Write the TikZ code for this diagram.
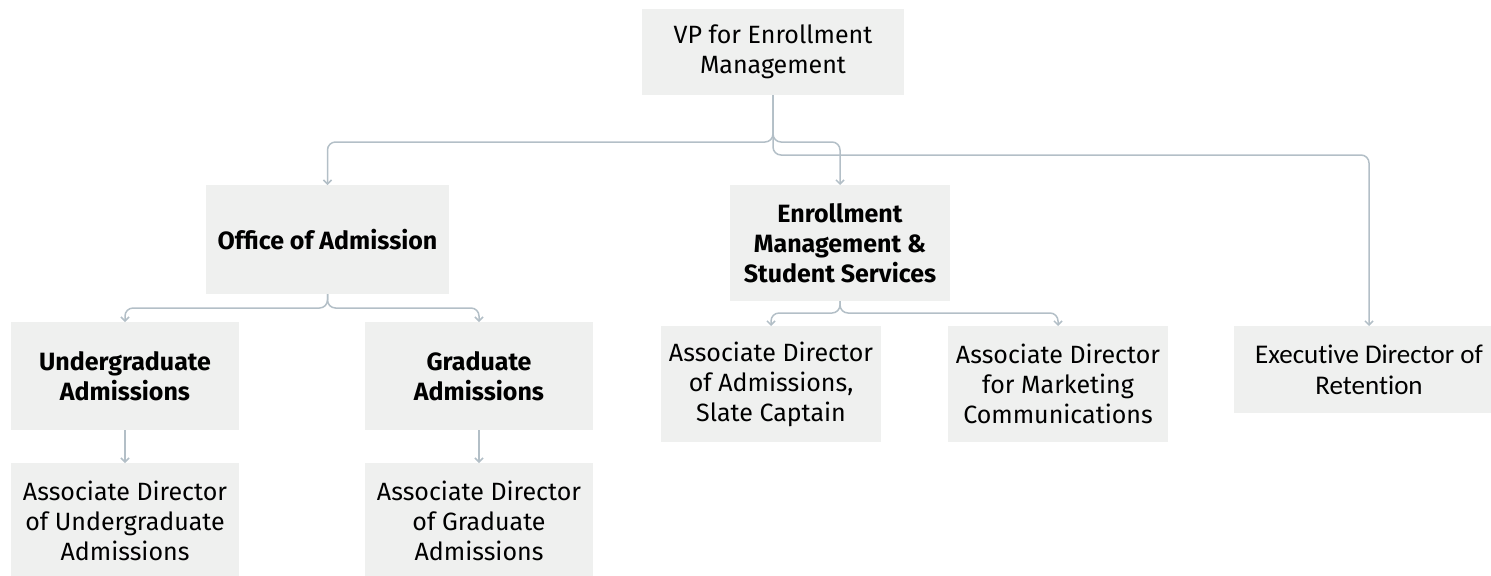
\documentclass[tikz,border=0pt]{standalone}
\usepackage{fontspec}
\setmainfont{Fira Sans}
\newfontfamily\carlitofont[Ligatures=CommonOff]{Carlito}
\usetikzlibrary{arrows.meta}

\definecolor{boxgray}{HTML}{EFF0EF}
\definecolor{edgegray}{HTML}{B3BFC7}

\tikzset{plain_box/.style={inner sep=0pt, outer sep=0pt, rectangle, fill=boxgray, align=center, font=\fontsize{12.5}{15}\selectfont}}
\tikzset{bold_box/.style={plain_box, font=\fontsize{12.5}{15}\selectfont\bfseries}}
\tikzset{edge_gray/.style={draw=edgegray, line width=0.75pt, rounded corners=4pt, -{Straight Barb[length=2pt,width=4pt]}}}

\begin{document}
\begin{tikzpicture}[x=0.5pt, y=-0.5pt]
    \useasboundingbox (0,0) rectangle (1491,575);
    % top
    \node[plain_box, minimum width=131pt, minimum height=43pt] (vp) at (773,52) {VP for Enrollment\\Management};
    % second row
    \node[bold_box, minimum width=121.5pt, minimum height=54.5pt] (office) at (327.5,239.5) {Office of Admission};
    \node[bold_box, minimum width=110pt, minimum height=58pt] (enroll) at (840,243) {Enrollment\\Management \&\\Student Services};
    % third row
    \node[bold_box, minimum width=114pt, minimum height=54pt] (ugrad) at (125,376) {Undergraduate\\Admissions};
    \node[bold_box, minimum width=114pt, minimum height=54pt] (grad) at (479,376) {Graduate\\Admissions};
    \node[plain_box, minimum width=110pt, minimum height=58pt] (slate) at (771,384) {Associate Director\\of Admissions,\\Slate Captain};
    \node[plain_box, minimum width=110pt, minimum height=58pt] (market) at (1058,384) {Associate Director\\for Marketing\\Communications};
    \node[plain_box, minimum width=135pt, minimum height=43.5pt, font=\carlitofont\fontsize{13.5}{15.5}\selectfont] (exec) at (1369,369.5) {Executive Director of\\Retention};
    % bottom row
    \node[plain_box, minimum width=114pt, minimum height=58pt] (adugrad) at (125,521) {Associate Director\\of Undergraduate\\Admissions};
    \node[plain_box, minimum width=114pt, minimum height=58pt] (adgrad) at (479,521) {Associate Director\\of Graduate\\Admissions};

    \draw[edge_gray] (vp.south) -- ++(0,47) -| (office.north);
    \draw[edge_gray] (vp.south) -- ++(0,47) -| (enroll.north);
    \draw[edge_gray] (vp.south) -- ++(0,60) -| (exec.north);
    \draw[edge_gray] (office.south) -- ++(0,14) -| (ugrad.north);
    \draw[edge_gray] (office.south) -- ++(0,14) -| (grad.north);
    \draw[edge_gray] (enroll.south) -- ++(0,12) -| (slate.north);
    \draw[edge_gray] (enroll.south) -- ++(0,12) -| (market.north);
    \draw[edge_gray] (ugrad.south) -- (adugrad.north);
    \draw[edge_gray] (grad.south) -- (adgrad.north);
\end{tikzpicture}
\end{document}
